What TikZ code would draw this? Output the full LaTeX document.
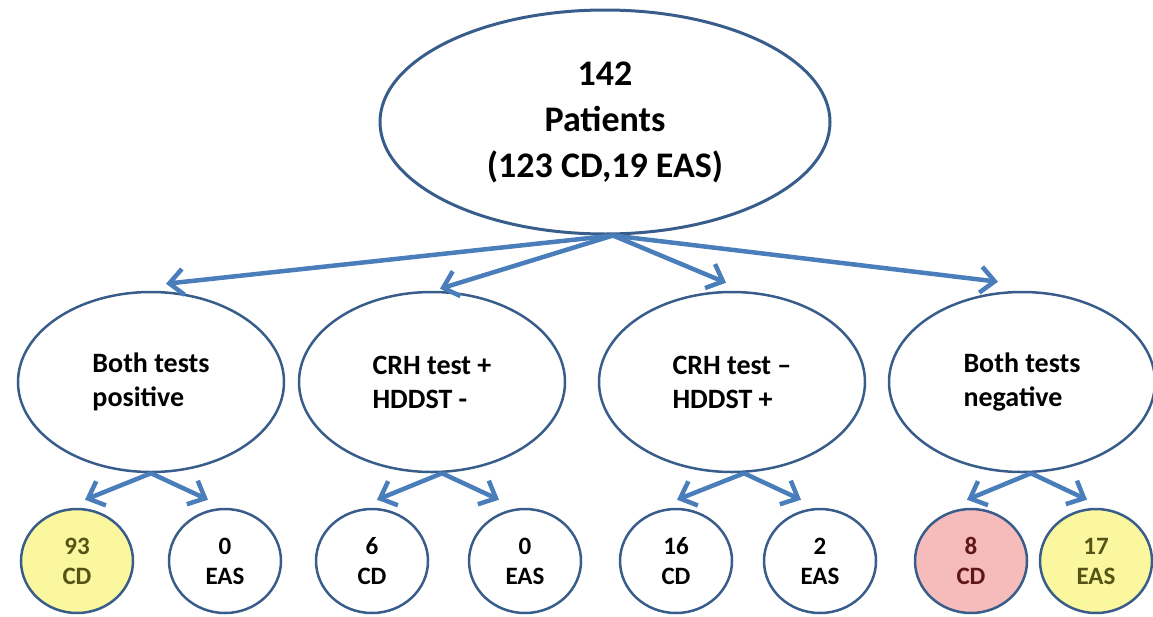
\documentclass[tikz,border=0pt]{standalone}
\usepackage{fontspec}
\setmainfont{Carlito}
\usetikzlibrary{arrows.meta,shapes.geometric,positioning}

\definecolor{ringblue}{RGB}{56,93,138}
\definecolor{arrowblue}{RGB}{74,126,187}
\definecolor{hiyellow}{RGB}{250,247,158}
\definecolor{hipink}{RGB}{246,187,187}
\definecolor{olivetext}{RGB}{84,84,22}
\definecolor{redtext}{RGB}{96,22,22}

\begin{document}
\begin{tikzpicture}[x=1pt,y=1pt,node distance=290pt,
  root/.style={ellipse,draw=ringblue,line width=3pt,minimum width=450pt,minimum height=224pt,inner sep=0,align=center,font=\bfseries\fontsize{36}{46}\selectfont},
  group/.style={ellipse,draw=ringblue,line width=2.5pt,minimum width=266pt,minimum height=180pt,inner sep=0,align=left,font=\bfseries\fontsize{28}{34}\selectfont},
  leaf/.style={ellipse,draw=ringblue,line width=2.5pt,minimum width=112pt,minimum height=104pt,inner sep=0,align=center,font=\bfseries\fontsize{25}{30}\selectfont},
  split/.style={-{Straight Barb[length=14pt,width=26pt]},arrowblue,line width=4.5pt}]

\useasboundingbox (0,0) rectangle (1153,-616);

% Nodes
\node[root] (pop) at (605,-122) {142\\Patients\\(123 CD,19 EAS)};

\node[group] (b1) at (151,-382) {Both tests\\positive};
\node[group,right of = b1,xshift=-9pt] (b2) {CRH test +\\HDDST -};
\node[group,right of = b2,xshift=10pt] (b3) {CRH test –\\HDDST +};
\node[group,right of = b3] (b4) {Both tests\\negative};

\node[leaf,fill=hiyellow,text=olivetext] (c1) at (77,-561) {93\\CD};
\node[leaf] (c2) at (225,-561) {0\\EAS};
\node[leaf] (c3) at (372,-561) {6\\CD};
\node[leaf] (c4) at (525,-561) {0\\EAS};
\node[leaf] (c5) at (676,-561) {16\\CD};
\node[leaf] (c6) at (820,-561) {2\\EAS};
\node[leaf,fill=hipink,text=redtext] (c7) at (971,-561) {8\\CD};
\node[leaf,fill=hiyellow,text=olivetext] (c8) at (1096,-561) {17\\EAS};

%arcs
\path ([xshift=8pt]pop.south) edge[split] ([xshift=15pt,yshift=7pt]b1.north);
\path ([xshift=8pt]pop.south) edge[split] ([xshift=8pt,yshift=2pt]b2.north);
\path ([xshift=8pt]pop.south) edge[split] ([xshift=-6pt,yshift=8pt]b3.north);
\path ([xshift=8pt]pop.south) edge[split] ([xshift=-24pt,yshift=9pt]b4.north);

\path (b1.south) edge[split] ([xshift=8pt,yshift=8pt]c1.north);
\path (b1.south) edge[split] ([xshift=-17pt,yshift=8pt]c2.north);
\path ([xshift=10pt]b2.south) edge[split] ([xshift=5pt,yshift=8pt]c3.north);
\path ([xshift=10pt]b2.south) edge[split] ([xshift=-26pt,yshift=8pt]c4.north);
\path ([xshift=12pt]b3.south) edge[split] ([xshift=1pt,yshift=8pt]c5.north);
\path ([xshift=12pt]b3.south) edge[split] ([xshift=-19pt,yshift=8pt]c6.north);
\path ([xshift=9pt]b4.south) edge[split] ([xshift=-4pt,yshift=8pt]c7.north);
\path ([xshift=9pt]b4.south) edge[split] ([xshift=-9pt,yshift=8pt]c8.north);

\end{tikzpicture}
\end{document}
